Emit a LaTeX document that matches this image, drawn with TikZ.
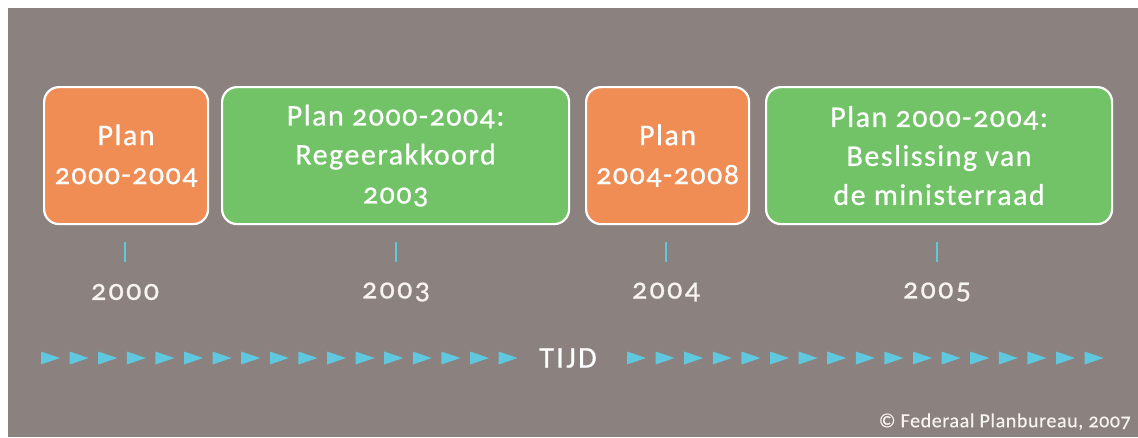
\documentclass[tikz,border=0pt]{standalone}
\usepackage{fontspec}
\setmainfont{Carlito}[Numbers=OldStyle]
\newfontfamily\boxfont{Carlito}[Numbers=OldStyle, LetterSpace=5, FakeBold=0.7]
\newfontfamily\yearfont{Carlito}[Numbers=OldStyle, LetterSpace=8, FakeBold=0.7]
\newfontfamily\creditfont{Carlito}[Numbers=OldStyle, LetterSpace=3, FakeBold=0.4]
\definecolor{bggray}{HTML}{8B817F}
\definecolor{planorange}{HTML}{EF8D55}
\definecolor{plangreen}{HTML}{72C267}
\definecolor{tickcyan}{HTML}{5FC8DF}
\definecolor{yeartext}{HTML}{F7F3EE}
\tikzset{
  planbox/.style={draw=white, line width=2.2pt, rounded corners=15pt, anchor=north west,
    align=center, text=white, font=\boxfont\fontsize{30}{39}\selectfont, inner sep=0pt},
  yearlabel/.style={text=yeartext, font=\yearfont\fontsize{30}{32}\selectfont},
  tickline/.style={draw=tickcyan, line width=2pt},
  timearrow/.style={fill=tickcyan}
}
\begin{document}
\begin{tikzpicture}[x=1pt,y=-1pt]
  \useasboundingbox (0,0) rectangle (1138,437);
  \fill[white] (0,0) rectangle (1138,437);
  \fill[bggray] (8,8) rectangle (1138,437);

  % plan boxes
  \node[planbox, fill=planorange, minimum width=164pt, minimum height=137pt] (b1) at (43,86)
    {Plan\\2000-2004};
  \node[planbox, fill=plangreen, minimum width=347pt, minimum height=137pt] (b2) at (221,86)
    {Plan 2000-2004:\\Regeerakkoord\\2003};
  \node[planbox, fill=planorange, minimum width=163pt, minimum height=137pt] (b3) at (585,86)
    {Plan\\2004-2008};
  \node[planbox, fill=plangreen, minimum width=346pt, minimum height=137pt] (b4) at (765,86)
    {Plan 2000-2004:\\Beslissing van\\de ministerraad};

  % year ticks and labels
  \foreach \x/\y [count=\i] in {125/2000, 396/2003, 666/2004, 937/2005} {
    \coordinate (t\i a) at (\x,242);
    \coordinate (t\i b) at (\x,262);
    \draw[tickline] (t\i a) -- (t\i b);
    \node[yearlabel] (y\i) at (\x,292) {\y};
  }

  % time axis
  \node[text=white, font=\yearfont\fontsize{30}{32}\selectfont] (tijd) at (568,358) {TIJD};
  \foreach \k in {0,...,16} {
    \fill[timearrow] ({41+28.6*\k},351.5) -- ({60+28.6*\k},358) -- ({41+28.6*\k},364.5) -- cycle;
    \fill[timearrow] ({627+28.6*\k},351.5) -- ({646+28.6*\k},358) -- ({627+28.6*\k},364.5) -- cycle;
  }

  % credit line
  \node[anchor=south east, text=yeartext, font=\creditfont\fontsize{20}{22}\selectfont, inner sep=0pt]
    (credit) at (1131,430) {© Federaal Planbureau, 2007};
\end{tikzpicture}
\end{document}
